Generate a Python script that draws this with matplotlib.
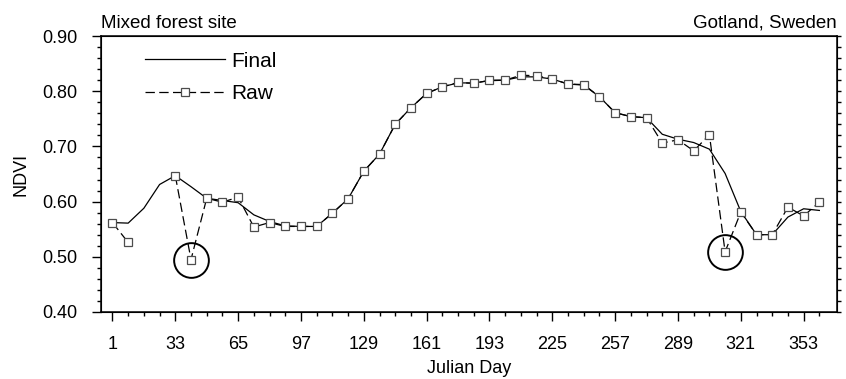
import numpy as np
import matplotlib
matplotlib.use('Agg')
import matplotlib.pyplot as plt
from matplotlib.ticker import MultipleLocator, FixedLocator, FormatStrFormatter

plt.rcParams['font.family'] = ['Liberation Sans', 'DejaVu Sans']
plt.rcParams['font.size'] = 13

# 8-day composite days
days = [1, 9, 17, 25, 33, 41, 49, 57, 65, 73, 81, 89, 97, 105, 113, 121,
        129, 137, 145, 153, 161, 169, 177, 185, 193, 201, 209, 217, 225, 233,
        241, 249, 257, 265, 273, 281, 289, 297, 305, 313, 321, 329, 337, 345,
        353, 361]

# smoothed (final) NDVI
ndvi_final = [0.562, 0.561, 0.588, 0.631, 0.647, 0.627, 0.606, 0.602, 0.598,
              0.576, 0.564, 0.556, 0.555, 0.555, 0.579, 0.605, 0.655, 0.686,
              0.740, 0.770, 0.796, 0.808, 0.815, 0.815, 0.819, 0.820, 0.826,
              0.826, 0.822, 0.813, 0.811, 0.790, 0.761, 0.754, 0.752, 0.722,
              0.713, 0.707, 0.695, 0.651, 0.582, 0.540, 0.540, 0.572, 0.587,
              0.584]

# raw NDVI (nan = no observation)
ndvi_raw = [0.562, 0.526, np.nan, np.nan, 0.647, 0.495, 0.606, 0.599, 0.608,
            0.554, 0.562, 0.555, 0.555, 0.555, 0.579, 0.605, 0.655, 0.686,
            0.740, 0.770, 0.796, 0.808, 0.816, 0.814, 0.820, 0.820, 0.829,
            0.828, 0.822, 0.813, 0.812, 0.790, 0.761, 0.754, 0.752, 0.706,
            0.712, 0.692, 0.721, 0.509, 0.581, 0.540, 0.540, 0.590, 0.574,
            0.599]

# circled outliers
out_days = [41, 313]
out_vals = [0.495, 0.509]

xticks = [1, 33, 65, 97, 129, 161, 193, 225, 257, 289, 321, 353]

fig = plt.figure(figsize=(8.46, 3.79), dpi=100)
ax = fig.add_axes([0.119, 0.1768, 0.8704, 0.7282])

ax.plot(days, ndvi_final, color='k', lw=0.9, label='Final')
ax.plot(days, ndvi_raw, color='k', lw=0.9, linestyle=(0, (7.5, 3.5)),
        marker='s', ms=6, mfc='white', mec='0.3', mew=0.9, label='Raw')
ax.plot(out_days, out_vals, linestyle='none', marker='o', ms=25,
        mfc='none', mec='k', mew=1.4)

ax.set_xlim(-5, 370)
ax.set_ylim(0.40, 0.90)
ax.xaxis.set_major_locator(FixedLocator(xticks))
ax.xaxis.set_minor_locator(FixedLocator(days))
ax.yaxis.set_major_locator(MultipleLocator(0.1))
ax.yaxis.set_minor_locator(MultipleLocator(0.02))
ax.yaxis.set_major_formatter(FormatStrFormatter('%.2f'))
ax.tick_params(which='both', direction='out', top=False, right=False, width=1)
ax.tick_params(which='major', length=6.5, pad=10.5)
ax.tick_params(which='minor', length=3.2)

# short outward ticks on the right side
ax2 = ax.twinx()
ax2.set_ylim(0.40, 0.90)
ax2.yaxis.set_major_locator(MultipleLocator(0.02))
ax2.tick_params(direction='out', length=3.2, width=1, labelright=False)

for s in ax.spines.values():
    s.set_linewidth(1.1)

ax.set_xlabel('Julian Day', labelpad=5)
ax.set_ylabel('NDVI', labelpad=9)
ax.set_title('Mixed forest site', loc='left', pad=6, fontsize=13.5)
ax.set_title('Gotland, Sweden', loc='right', pad=6, fontsize=13.5)

ax.legend(loc='upper left', bbox_to_anchor=(0.06, 0.943), frameon=False,
          fontsize=15, handlelength=3.85, handletextpad=0.3, labelspacing=0.65,
          borderpad=0, borderaxespad=0, numpoints=1)

fig.savefig('out.png', dpi=100)
